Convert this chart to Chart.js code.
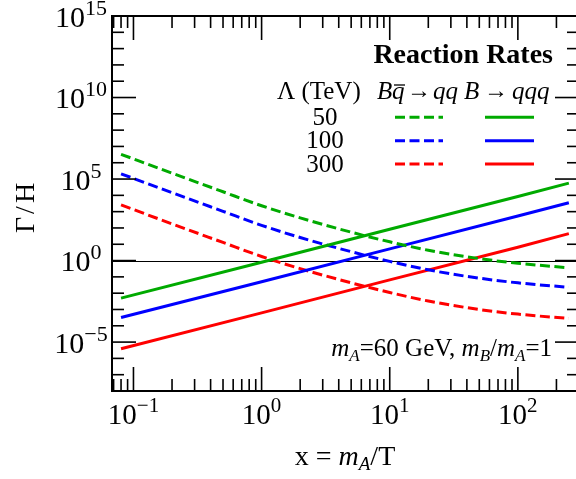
<!DOCTYPE html>
<html>
<head>
<meta charset="utf-8">
<script src="https://cdn.jsdelivr.net/npm/chart.js@4.4.0/dist/chart.umd.min.js"></script>
<style>
  html, body { margin: 0; padding: 0; background: #fff; overflow: hidden; }
  #wrap { width: 576px; height: 479px; overflow: hidden; }
</style>
</head>
<body>
<div id="wrap"><canvas id="rates" width="580" height="479"></canvas></div>
<script>
// x = m_A / T
const xScattering = [0.08, 0.2, 0.5, 1, 2, 5, 10, 20, 50, 100, 250];
const xDecay = [0.08, 1, 10, 100, 250];
const lambdaLabels = ['50', '100', '300'];

// B qbar -> q q (dashed), one array per Lambda
const scattering50 = [3.3e6, 2.3e5, 1.66e4, 2.3e3, 417, 55, 14.1, 4.3, 1.32, 0.68, 0.36];
const scattering100 = [2.1e5, 1.45e4, 1.05e3, 145, 26, 3.5, 0.89, 0.27, 0.083, 0.043, 0.023];
const scattering300 = [2.6e3, 178, 12.9, 1.78, 0.32, 0.043, 0.011, 3.3e-3, 1.0e-3, 5.2e-4, 2.8e-4];

// B -> q q q (solid)
const decay50 = [5.0e-3, 0.79, 83, 8.5e3, 5.6e4];
const decay100 = [3.2e-4, 0.050, 5.2, 537, 3.5e3];
const decay300 = [3.9e-6, 6.2e-4, 0.065, 6.6, 45];

const lineColors = ['#00aa00', '#0000ff', '#ff0000'];

const xTickValues = [0.1, 1, 10, 100];
const xTickExponents = ['\u22121', '0', '1', '2'];
const yTickValues = [1e-5, 1, 1e5, 1e10, 1e15];
const yTickExponents = ['\u22125', '0', '5', '10', '15'];

const SERIF = '"Liberation Serif", "Times New Roman", serif';
const DASH = [10, 4.5];

function font(size, style) {
    return (style || '') + ' ' + size + 'px ' + SERIF;
}

function toPoints(xs, ys) {
    return xs.map((x, i) => ({ x: x, y: ys[i] }));
}

// draws a row of text pieces (for sub/superscripts and italics)
function drawRich(ctx, x, y, parts, align) {
    let total = 0;
    parts.forEach(p => {
        ctx.font = p.font;
        p.w = ctx.measureText(p.t).width + (p.gap || 0);
        total += p.w;
    });
    let cx = x;
    if (align === 'center') cx = x - total / 2;
    if (align === 'right') cx = x - total;
    parts.forEach(p => {
        ctx.font = p.font;
        ctx.fillText(p.t, cx, y + (p.dy || 0));
        cx += p.w;
    });
}

function seg(ctx, x1, y1, x2, y2) {
    ctx.beginPath();
    ctx.moveTo(x1, y1);
    ctx.lineTo(x2, y2);
    ctx.stroke();
}

const unityLine = {
    id: 'unityLine',
    beforeDatasetsDraw(chart) {
        const ctx = chart.ctx;
        const { left, right } = chart.chartArea;
        const py = chart.scales.y.getPixelForValue(1);
        ctx.save();
        ctx.strokeStyle = '#000';
        ctx.lineWidth = 1;
        seg(ctx, left, Math.round(py) + 0.5, right, Math.round(py) + 0.5);
        ctx.restore();
    }
};

const frameAndText = {
    id: 'frameAndText',
    afterDatasetsDraw(chart) {
        const ctx = chart.ctx;
        const { left, right, top, bottom } = chart.chartArea;
        const xs = chart.scales.x;
        const ys = chart.scales.y;
        ctx.save();
        ctx.strokeStyle = '#000';
        ctx.fillStyle = '#000';

        // ticks on all four sides, pointing inward
        ctx.lineWidth = 1.6;
        for (let e = -2; e <= 3; e++) {
            for (let m = 1; m <= 9; m++) {
                const v = m * Math.pow(10, e);
                if (v < xs.min || v > xs.max) continue;
                const px = xs.getPixelForValue(v);
                const len = m === 1 ? 24 : 12;
                seg(ctx, px, bottom, px, bottom - len);
                seg(ctx, px, top, px, top + len);
            }
        }
        for (let e = -8; e <= 15; e++) {
            const py = ys.getPixelForValue(Math.pow(10, e));
            const len = e % 5 === 0 ? 24 : 12;
            seg(ctx, left, py, left + len, py);
            seg(ctx, right, py, right - len, py);
        }
        ctx.lineWidth = 2;
        ctx.strokeRect(left, top, right - left, bottom - top);

        // tick labels
        ctx.textBaseline = 'alphabetic';
        ctx.textAlign = 'left';
        xTickValues.forEach((v, i) => {
            drawRich(ctx, xs.getPixelForValue(v), 424, [
                { t: '10', font: font(29) },
                { t: xTickExponents[i], font: font(21), dy: -12 }
            ], 'center');
        });
        yTickValues.forEach((v, i) => {
            drawRich(ctx, 81, ys.getPixelForValue(v) + 10.5, [
                { t: '10', font: font(30) },
                { t: yTickExponents[i], font: font(22), dy: -12 }
            ], 'center');
        });

        // axis titles
        drawRich(ctx, 345, 465, [
            { t: 'x = ', font: font(28) },
            { t: 'm', font: font(28, 'italic') },
            { t: 'A', font: font(19, 'italic'), dy: 5 },
            { t: '/T', font: font(28) }
        ], 'center');
        ctx.save();
        ctx.translate(34, 0);
        ctx.rotate(-Math.PI / 2);
        ctx.font = font(28);
        ctx.textAlign = 'center';
        ctx.fillText('\u0393', -225, 0);
        ctx.fillText('/', -210, 0);
        ctx.fillText('H', -193, 0);
        ctx.restore();

        // legend block
        ctx.textAlign = 'left';
        drawRich(ctx, 553, 63, [{ t: 'Reaction Rates', font: font(28, 'bold') }], 'right');
        ctx.font = font(25);
        ctx.fillText('\u039b (TeV)', 277, 99);
        ctx.font = font(25, 'italic');
        ctx.fillText('B', 377, 99);
        ctx.fillText('q', 392, 99);
        ctx.fillText('qq', 433, 99);
        ctx.fillText('B', 464, 99);
        ctx.fillText('qqq', 512, 99);
        ctx.font = font(24);
        ctx.fillText('\u2192', 407, 98);
        ctx.fillText('\u2192', 484, 98);
        ctx.lineWidth = 1.3;
        seg(ctx, 394, 85, 405, 85);

        const rowBase = [125, 148, 172];
        const rowLine = [117.3, 140.7, 164];
        lambdaLabels.forEach((lab, i) => {
            drawRich(ctx, 325, rowBase[i], [{ t: lab, font: font(25) }], 'center');
            ctx.strokeStyle = lineColors[i];
            ctx.lineWidth = 3;
            ctx.setLineDash(DASH);
            seg(ctx, 395, rowLine[i], 443, rowLine[i]);
            ctx.setLineDash([]);
            seg(ctx, 485, rowLine[i], 534, rowLine[i]);
        });

        // parameters note
        drawRich(ctx, 552, 356, [
            { t: 'm', font: font(25, 'italic') },
            { t: 'A', font: font(17, 'italic'), dy: 5 },
            { t: '=60 GeV, ', font: font(25) },
            { t: 'm', font: font(25, 'italic') },
            { t: 'B', font: font(17, 'italic'), dy: 5 },
            { t: '/', font: font(25) },
            { t: 'm', font: font(25, 'italic') },
            { t: 'A', font: font(17, 'italic'), dy: 5 },
            { t: '=1', font: font(25) }
        ], 'right');
        ctx.restore();
    }
};

const scatteringSets = [scattering50, scattering100, scattering300];
const decaySets = [decay50, decay100, decay300];
const datasets = [];
lambdaLabels.forEach((lab, i) => {
    datasets.push({
        label: 'Bqbar->qq, Lambda=' + lab,
        data: toPoints(xScattering, scatteringSets[i]),
        borderColor: lineColors[i],
        borderWidth: 3,
        borderDash: DASH,
        cubicInterpolationMode: 'monotone',
        pointRadius: 0,
        fill: false
    });
    datasets.push({
        label: 'B->qqq, Lambda=' + lab,
        data: toPoints(xDecay, decaySets[i]),
        borderColor: lineColors[i],
        borderWidth: 3,
        pointRadius: 0,
        fill: false
    });
});

const chartCtx = document.getElementById('rates').getContext('2d');
new Chart(chartCtx, {
    type: 'line',
    data: { datasets: datasets },
    options: {
        responsive: false,
        animation: false,
        devicePixelRatio: 1,
        layout: { padding: { left: 112, top: 16, right: 1, bottom: 88 } },
        plugins: { legend: { display: false }, tooltip: { enabled: false } },
        scales: {
            x: { type: 'logarithmic', min: 0.068, max: 300, display: false },
            y: { type: 'logarithmic', min: 1e-8, max: 1e15, display: false }
        }
    },
    plugins: [unityLine, frameAndText]
});
</script>
</body>
</html>
